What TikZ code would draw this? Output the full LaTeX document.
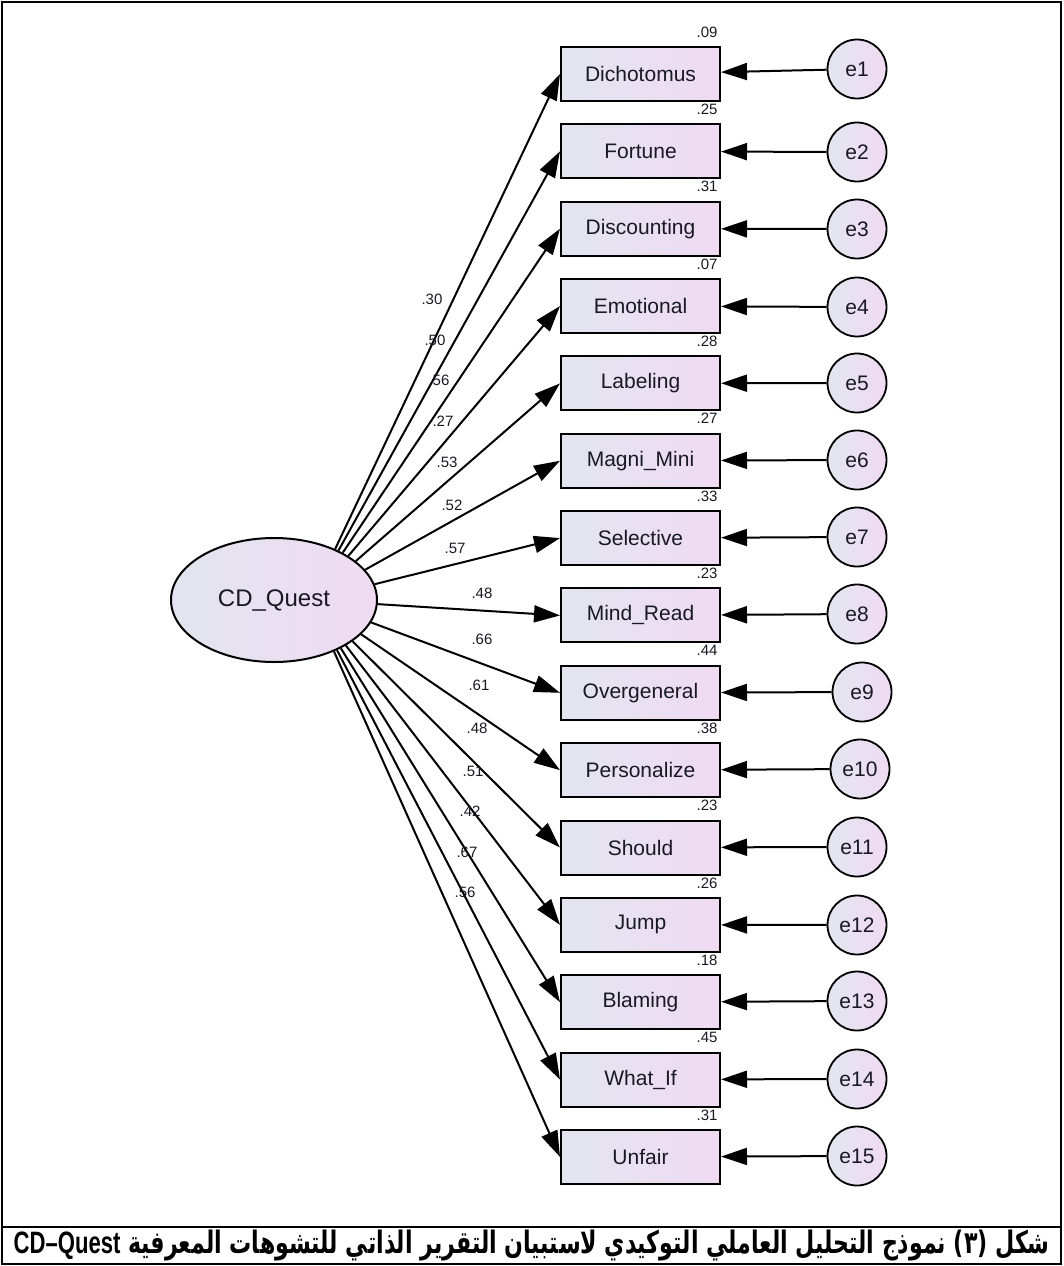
\documentclass[tikz,border=0pt]{standalone}
\usepackage{fontspec}
\setmainfont{Liberation Sans}
\newfontfamily\arabicfont[Script=Arabic]{DejaVu Sans}
\TeXXeTstate=1
\usetikzlibrary{arrows.meta,shapes.geometric,intersections}
\definecolor{lc}{RGB}{226,229,239}
\definecolor{rc}{RGB}{240,219,243}
\definecolor{txt}{RGB}{25,25,35}
\begin{document}
\begin{tikzpicture}[x=1pt,y=-1pt,
  obs/.style={draw,line width=2pt,minimum width=159pt,minimum height=54pt,
    left color=lc,right color=rc,text=txt,inner sep=0pt,
    font=\fontsize{21}{21}\selectfont},
  err/.style={circle,draw,line width=1.8pt,minimum size=59pt,inner sep=0pt,
    left color=lc,right color=rc,text=txt,font=\fontsize{21}{21}\selectfont},
  lat/.style={ellipse,draw,line width=2pt,minimum width=206pt,minimum height=124pt,
    inner sep=0pt,left color=lc,right color=rc,text=txt,
    font=\fontsize{24}{24}\selectfont},
  ptharrow/.style={line width=2pt,-{Triangle[length=26pt,width=17pt]}},
  coef/.style={inner sep=0pt,text=txt,font=\fontsize{15}{15}\selectfont}
]
\useasboundingbox (0,0) rectangle (1063,1266);
\draw[line width=2pt] (2,2) rectangle (1061,1264);
\draw[line width=2pt] (2,1227) -- (1061,1227);

\node[lat] (cd) at (274,600) {CD\_Quest};
\path[name path=ellb] (274,600) ellipse [x radius=104pt, y radius=63pt];
\coordinate (aim) at (311,600);

\foreach \i/\t/\r/\c/\lx/\ly/\ex/\ey in {
1/Dichotomus/.09/.30/432/299/857/69,
2/Fortune/.25/.50/435/340/857/152,
3/Discounting/.31/.56/439/380/857/229,
4/Emotional/.07/.27/443/421/857/307,
5/Labeling/.28/.53/447/462/857/383,
6/Magni\_Mini/.27/.52/452/505/857/460,
7/Selective/.33/.57/455/548/857/537,
8/Mind\_Read/.23/.48/482/593/857/614,
9/Overgeneral/.44/.66/482/639/862/692,
10/Personalize/.38/.61/479/685/860/769,
11/Should/.23/.48/477/728/857/847,
12/Jump/.26/.51/473/771/857/925,
13/Blaming/.18/.42/470/811/857/1001,
14/What\_If/.45/.67/467/852/857/1079,
15/Unfair/.31/.56/465/892/857/1156}{
  \pgfmathsetmacro\yy{74+77.35*(\i-1)}
  \node[obs] (v\i) at (640.5,\yy) {\t};
  \node[err] (e\i) at (\ex,\ey) {e\i};
  \draw[ptharrow] (e\i) -- (v\i);
  \path[name path=ln] (aim) -- (v\i.west);
  \path[name intersections={of=ellb and ln, by={s\i}}];
  \draw[ptharrow] (s\i) -- (v\i.west);
  \node[coef] (r\i) at (707,\yy-42) {\r};
  \node[coef] (l\i) at (\lx,\ly) {\c};
}

\node[anchor=east,inner sep=0pt] (cap) at (1050,1246)
  {\scalebox{1}[1.4]{\resizebox{1036pt}{!}{\arabicfont\bfseries\beginR شكل (٣) نموذج التحليل العاملي التوكيدي لاستبيان التقرير الذاتي للتشوهات المعرفية \beginL{\normalfont\bfseries CD–Quest}\endL\endR}}};
\end{tikzpicture}
\end{document}
